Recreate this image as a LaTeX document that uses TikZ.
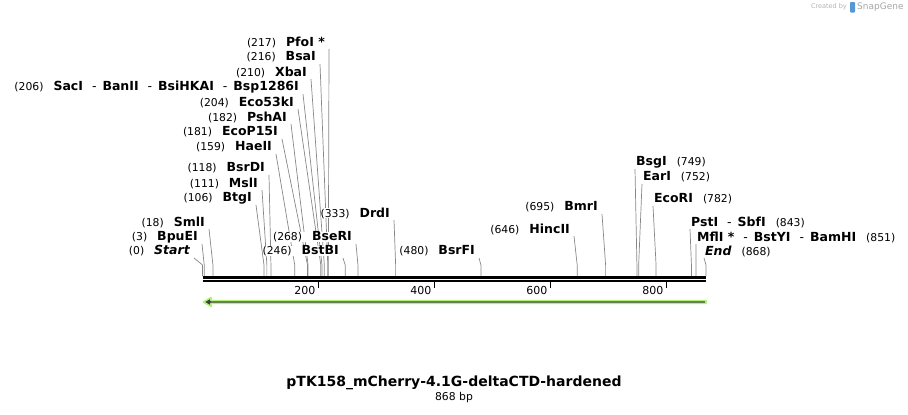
\documentclass[tikz,border=0pt]{standalone}
\usepackage{fontspec}
\setmainfont{DejaVu Sans}
\usepackage{tikz}
\usetikzlibrary{calc}
\pgfdeclarelayer{background}
\pgfsetlayers{background,main}
\definecolor{featgreen}{RGB}{178,240,122}
\definecolor{featdark}{RGB}{64,64,64}
\definecolor{cutgrey}{RGB}{135,135,135}
\newcommand{\bpnum}[1]{{\mdseries\fontsize{10.8}{12}\selectfont #1}}
\newcommand{\enzsep}{\hspace{9pt}{\mdseries -}\hspace{6pt}}
\newcommand{\gap}{\hspace{10pt}}

\begin{document}
\begin{tikzpicture}[
    x=1pt, y=-1pt,
    enz/.style={font=\fontsize{12.5}{14}\selectfont\bfseries, inner sep=0pt, fill=white},
    lsite/.style={enz, anchor=east},
    rsite/.style={enz, anchor=west},
    cut/.style={draw=cutgrey, line width=0.7pt},
    ticklbl/.style={font=\fontsize{11}{13}\selectfont, inner sep=0pt, anchor=east},
  ]
  \useasboundingbox (0,0) rectangle (908,415);

  % sites on the sequence
  \foreach \s in {0,3,18,106,111,118,159,181,182,204,206,210,216,217,246,268,333,480,646,695,749,752,782,843,851,868}
    \coordinate (c\s) at ({202.5+0.58*\s},276);
  \coordinate (knee) at (0,265);

  % double ruler line
  \draw[line width=3pt] (202.5,277) -- (706,277);
  \draw[line width=2pt] (202.5,281) -- (706,281);
  \foreach \t in {200,400,600,800} {
    \coordinate (t\t) at ({202.5+0.58*\t},281);
    \draw[line width=1.8pt] (t\t) -- ++(0,7);
    \node[ticklbl] (lbl\t) at ($(t\t)+(-3,9)$) {\t};
  }

  % feature arrow (reverse strand)
  \filldraw[draw=featgreen, fill=featdark, line width=1.6pt, line join=round]
    (706,300.6) -- (211,300.6) -- (211,297.5) -- (203.5,302) -- (211,306.5)
    -- (211,303.4) -- (706,303.4) -- cycle;

  % left-hand enzymes
  \node[lsite] (PfoI)    at (325,42)  {\bpnum{(217)}\gap PfoI *};
  \node[lsite] (BsaI)    at (316,57)  {\bpnum{(216)}\gap BsaI};
  \node[lsite] (XbaI)    at (307,72)  {\bpnum{(210)}\gap XbaI};
  \node[lsite] (SacI)    at (299,87)  {\bpnum{(206)}\gap SacI\enzsep BanII\enzsep BsiHKAI\enzsep Bsp1286I};
  \node[lsite] (Eco53kI) at (294,102) {\bpnum{(204)}\gap Eco53kI};
  \node[lsite] (PshAI)   at (287,117) {\bpnum{(182)}\gap PshAI};
  \node[lsite] (EcoP15I) at (278,132) {\bpnum{(181)}\gap EcoP15I};
  \node[lsite] (HaeII)   at (272,147) {\bpnum{(159)}\gap HaeII};
  \node[lsite] (BsrDI)   at (265,168) {\bpnum{(118)}\gap BsrDI};
  \node[lsite] (MslI)    at (258,183) {\bpnum{(111)}\gap MslI};
  \node[lsite] (BtgI)    at (252,198) {\bpnum{(106)}\gap BtgI};
  \node[lsite] (SmlI)    at (205,222) {\bpnum{(18)}\gap SmlI};
  \node[lsite] (BpuEI)   at (198,237) {\bpnum{(3)}\gap BpuEI};
  \node[lsite] (seqStart) at (190,251) {\bpnum{(0)}\gap{\itshape Start}};
  \node[lsite] (BseRI)   at (352,237) {\bpnum{(268)}\gap BseRI};
  \node[lsite] (BstBI)   at (339,251) {\bpnum{(246)}\gap BstBI};
  \node[lsite] (DrdI)    at (390,213) {\bpnum{(333)}\gap DrdI};
  \node[lsite] (BsrFI)   at (475,251) {\bpnum{(480)}\gap BsrFI};
  \node[lsite] (HincII)  at (570,229) {\bpnum{(646)}\gap HincII};
  \node[lsite] (BmrI)    at (598,207) {\bpnum{(695)}\gap BmrI};

  % right-hand enzymes
  \node[rsite] (BsgI)    at (636,162) {BsgI\gap\bpnum{(749)}};
  \node[rsite] (EarI)    at (643,177) {EarI\gap\bpnum{(752)}};
  \node[rsite] (EcoRI)   at (654,199) {EcoRI\gap\bpnum{(782)}};
  \node[rsite] (PstI)    at (691,222) {PstI\enzsep SbfI\gap\bpnum{(843)}};
  \node[rsite] (MflI)    at (697,237) {MflI *\enzsep BstYI\enzsep BamHI\gap\bpnum{(851)}};
  \node[rsite] (seqEnd)  at (705,251) {{\itshape End}\gap\bpnum{(868)}};

  \begin{pgfonlayer}{background}
  \foreach \n/\s in {PfoI/217, BsaI/216, XbaI/210, SacI/206, Eco53kI/204, PshAI/182,
      EcoP15I/181, HaeII/159, BsrDI/118, MslI/111, BtgI/106, SmlI/18, BpuEI/3,
      seqStart/0, BseRI/268, BstBI/246, DrdI/333, BsrFI/480, HincII/646, BmrI/695}
    \draw[cut] ($(\n.east)+(4,7)$) -- (c\s |- knee) -- (c\s);
  \foreach \n/\s in {BsgI/749, EarI/752, EcoRI/782, PstI/843, MflI/851, seqEnd/868}
    \draw[cut] ($(\n.west)+(-1,7)$) -- (c\s |- knee) -- (c\s);
  \end{pgfonlayer}

  % title
  \node[font=\fontsize{14}{16}\selectfont\bfseries] (title) at (454,383) {pTK158\_mCherry-4.1G-deltaCTD-hardened};
  \node[font=\fontsize{10.8}{12}\selectfont] (length) at (454,398) {868 bp};

  % credit
  \node[font=\fontsize{6.5}{8}\selectfont, text=black!30, inner sep=0pt, anchor=east] (credit) at (847,7) {Created by};
  \fill[cyan!60!blue!70, rounded corners=0.8pt] (850,2) rectangle (855,12.5);
  \node[font=\fontsize{9}{11}\selectfont, text=black!35, inner sep=0pt, anchor=west] (brand) at (857,7) {SnapGene};
\end{tikzpicture}
\end{document}
